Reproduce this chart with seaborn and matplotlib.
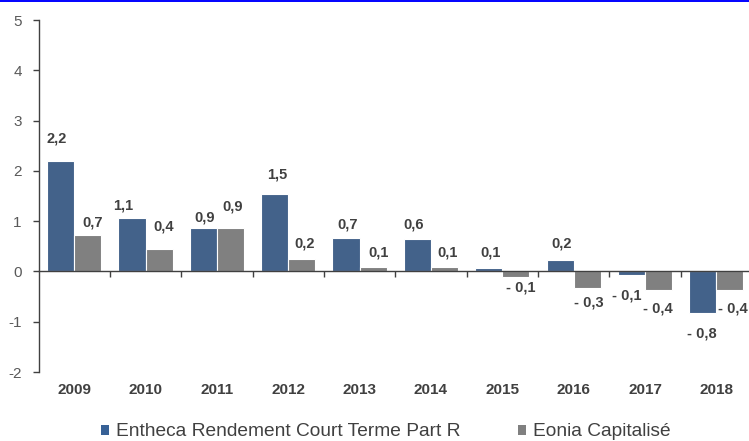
import pandas as pd
import matplotlib.pyplot as plt
import seaborn as sns
from matplotlib.patches import Patch
from matplotlib.lines import Line2D

# données
annees = ['2009', '2010', '2011', '2012', '2013', '2014', '2015', '2016', '2017', '2018']
entheca = [2.20, 1.07, 0.86, 1.54, 0.66, 0.64, 0.06, 0.22, -0.08, -0.83]
eonia = [0.73, 0.44, 0.87, 0.24, 0.08, 0.08, -0.12, -0.32, -0.36, -0.36]
series = ['Entheca Rendement Court Terme Part R', 'Eonia Capitalisé']
y_ticks = [-2, -1, 0, 1, 2, 3, 4, 5]

# décalages des étiquettes (pixels, centre du texte / extrémité de la barre)
dy_entheca = [22, 12, 11, 19, 14, 15, 16, 17, -20, -20]
dx_entheca = [-4, -9, 1, 3, 2, -4, 2, 2, -5, -1]
dy_eonia = [12, 23, 21, 16, 15, 15, -10, -15, -19, -19]
dx_eonia = [5, 5, 2, 3, 5, 3, 5, 2, -1, 3]

BLEU = '#376196'
GRIS = '#808080'
TEXTE = '#404040'

df = pd.DataFrame({
    'annee': annees * 2,
    'valeur': entheca + eonia,
    'serie': [series[0]] * len(annees) + [series[1]] * len(annees),
})

sns.set_style('white')
plt.rcParams['font.family'] = ['Liberation Sans', 'DejaVu Sans']

fig = plt.figure(figsize=(7.49, 4.41), dpi=100)
ax = fig.add_axes([38.5 / 749, 69 / 441, 713.5 / 749, 352 / 441])

sns.barplot(data=df, x='annee', y='valeur', hue='serie', order=annees,
            hue_order=series, palette=[BLEU, GRIS], width=0.76, gap=0,
            edgecolor='white', linewidth=0.8, legend=False, ax=ax)

ax.set_xlim(-0.5, len(annees) - 0.5)
ax.set_ylim(-2, 5)
ax.set_yticks(y_ticks)
ax.set_yticklabels([str(v) for v in y_ticks], fontsize=11, color='#595959')
ax.set_xlabel('')
ax.set_ylabel('')

# axe des x sur le zéro, graduations entre les catégories
for s in ['top', 'right']:
    ax.spines[s].set_visible(False)
ax.spines['left'].set_color(TEXTE)
ax.spines['left'].set_linewidth(1)
ax.spines['bottom'].set_position(('data', 0))
ax.spines['bottom'].set_color(TEXTE)
ax.spines['bottom'].set_linewidth(1)
ax.set_xticks([i + 0.5 for i in range(len(annees) - 1)])
ax.set_xticklabels([])
ax.tick_params(axis='x', direction='out', length=4, width=1, color=TEXTE, bottom=True)
ax.tick_params(axis='y', direction='out', length=4, width=1, color=TEXTE, left=True, pad=8)
ax.grid(False)

# années sous le graphique
for i, a in enumerate(annees):
    ax.annotate(a, xy=(i, 0), xycoords=('data', 'axes fraction'),
                xytext=(0, -18 * 0.72), textcoords='offset points',
                ha='center', va='center', fontsize=11, fontweight='bold', color=TEXTE)

# étiquettes de valeurs
decalages = [(dx_entheca, dy_entheca), (dx_eonia, dy_eonia)]
for k, cont in enumerate(ax.containers):
    dxs, dys = decalages[k]
    for bar in cont:
        i = int(round(bar.get_x() + bar.get_width() / 2))
        v = bar.get_height()
        y_bout = bar.get_y() + v
        txt = f'{abs(v):.1f}'.replace('.', ',')
        if round(v, 1) < 0:
            txt = '- ' + txt
        ax.annotate(txt, xy=(bar.get_x() + bar.get_width() / 2, y_bout),
                    xytext=(dxs[i] * 0.72, dys[i] * 0.72), textcoords='offset points',
                    ha='center', va='center', fontsize=10.5, fontweight='bold', color=TEXTE)

# légende
handles = [Patch(facecolor=BLEU, edgecolor='none'), Patch(facecolor=GRIS, edgecolor='none')]
fig.legend(handles, series, loc='center', bbox_to_anchor=(386 / 749, 1 - 432 / 441),
           ncol=2, frameon=False, fontsize=13.8, labelcolor=TEXTE,
           handlelength=0.42, handleheight=0.42, handletextpad=0.35, columnspacing=3.0)

# liseré bleu en haut
fig.add_artist(Line2D([0, 1], [1 - 0.8 / 441, 1 - 0.8 / 441], color='#0000ff',
                      linewidth=1.4, transform=fig.transFigure))

fig.savefig('out.png', dpi=100)
